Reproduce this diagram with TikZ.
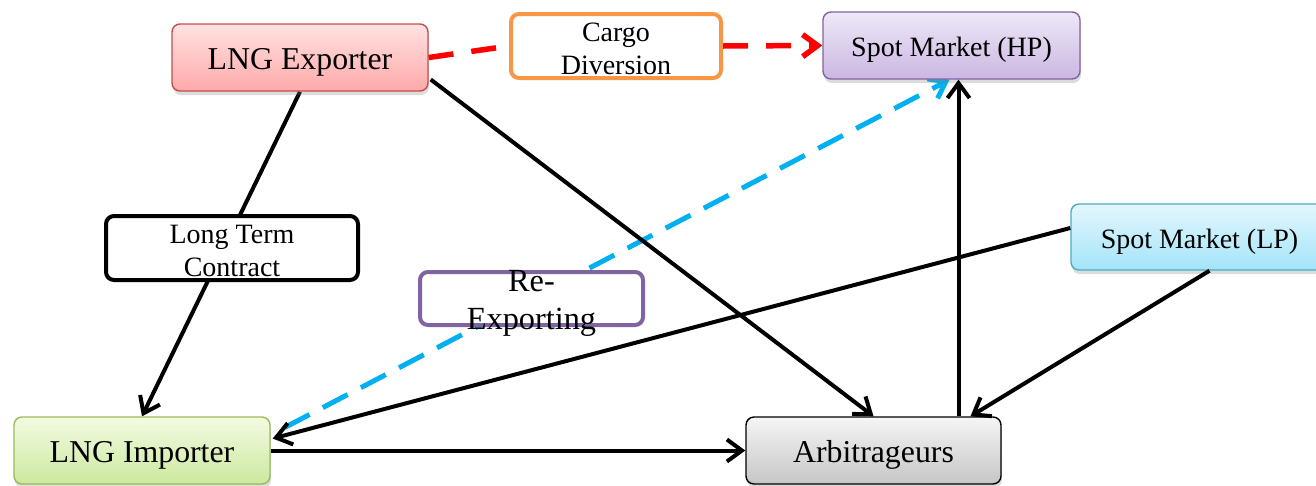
\documentclass[tikz,border=0pt]{standalone}
\usepackage{fontspec}
\setmainfont{Liberation Serif}
\usetikzlibrary{arrows.meta,calc,shadows,backgrounds}

\definecolor{expborder}{HTML}{C0504D}
\definecolor{exptop}{HTML}{FFE2E2}
\definecolor{expbot}{HTML}{FFA9A9}
\definecolor{hpborder}{HTML}{8064A2}
\definecolor{hptop}{HTML}{EEE8F7}
\definecolor{hpbot}{HTML}{CBB7E2}
\definecolor{lpborder}{HTML}{4BACC6}
\definecolor{lptop}{HTML}{E3F7FD}
\definecolor{lpbot}{HTML}{A4E4F8}
\definecolor{impborder}{HTML}{9BBB59}
\definecolor{imptop}{HTML}{F3FBE2}
\definecolor{impbot}{HTML}{CCE89E}
\definecolor{arbtop}{HTML}{F5F5F5}
\definecolor{arbbot}{HTML}{C6C6C6}
\definecolor{cargoborder}{HTML}{F79646}
\definecolor{reexpblue}{HTML}{00B0F0}
\definecolor{flowred}{HTML}{FF0000}

\tikzset{
  actor/.style={rounded corners=8pt, line width=1.4pt, inner sep=0pt,
    drop shadow={opacity=0.28, shadow xshift=1pt, shadow yshift=-4pt}},
  labelbox/.style={rounded corners=8pt, line width=4pt, fill=white, inner sep=0pt},
  bigtxt/.style={font=\fontsize{31.8}{38}\selectfont, text height=24.5pt, text depth=0pt},
  onetxt/.style={font=\fontsize{28}{33}\selectfont, text height=22.5pt, text depth=0pt},
  midtxt/.style={font=\fontsize{28}{33}\selectfont, align=center, inner sep=0pt},
  tip/.style={-{Straight Barb[length=15pt,width=22pt]}},
  flow/.style={line width=4pt, black, tip},
  redflow/.style={line width=5.5pt, flowred, dash pattern=on 25pt off 18pt},
  blueflow/.style={line width=5pt, reexpblue, dash pattern=on 28pt off 15pt},
}

\begin{document}
\begin{tikzpicture}[x=1pt,y=-1pt]
\useasboundingbox (0,0) rectangle (1316,485);

% actors
\node[actor, draw=expborder, top color=exptop, bottom color=expbot,
  minimum width=256pt, minimum height=67pt, bigtxt] (exp) at (300,57.5) {LNG Exporter};
\node[actor, draw=hpborder, top color=hptop, bottom color=hpbot,
  minimum width=257pt, minimum height=67pt, onetxt] (hp) at (951.5,45.5) {Spot Market (HP)};
\node[actor, draw=lpborder, top color=lptop, bottom color=lpbot,
  minimum width=257pt, minimum height=66pt, onetxt] (lp) at (1199.5,237) {Spot Market (LP)};
\node[actor, draw=impborder, top color=imptop, bottom color=impbot,
  minimum width=256pt, minimum height=67pt, bigtxt] (imp) at (142,450.5) {LNG Importer};
\node[actor, draw=black, top color=arbtop, bottom color=arbbot,
  minimum width=255pt, minimum height=67pt, bigtxt] (arb) at (873.5,450.5) {Arbitrageurs};

% mechanism labels: frames, then their two-line texts
\node[labelbox, draw=cargoborder, minimum width=210pt, minimum height=64pt] (cargo) at (616,46) {};
\node[midtxt] (cargotxt) at (616,48.5) {Cargo\\Diversion};
\node[labelbox, draw=black, minimum width=252pt, minimum height=64pt] (ltc) at (232,248) {};
\node[midtxt] (ltctxt) at (232,250.5) {Long Term\\Contract};
\node[labelbox, draw=hpborder, minimum width=223pt, minimum height=53pt] (reexp) at (531.5,298.5) {};
\node[font=\fontsize{32.3}{38}\selectfont, align=center, inner sep=0pt]
  (reexptxt) at (531.5,303) {Re-\\Exporting};

% connectors that pass behind the label boxes
\begin{scope}[on background layer]
  \draw[flow] (exp.south) -- (imp.north);
  \draw[blueflow, tip] ($(imp.east)+(14,-23)$) -- ($(hp.south)+(-2,0)$);
\end{scope}

\draw[redflow] (exp.east) -- (cargo.west);
\draw[redflow, tip] (cargo.east) -- (hp.west);

\draw[flow] ($(exp.east)+(2,22)$) -- (arb.north);
\draw[flow] ($(lp.west)+(0,-9)$) -- ($(imp.east)+(2,-12)$);
\draw[flow] ($(lp.south)+(10,0)$) -- ($(arb.north)+(97,0)$);
\draw[flow] ($(arb.north)+(85,0)$) -- ($(hp.south)+(7,0)$);
\draw[flow] (imp.east) -- (arb.west);
\end{tikzpicture}
\end{document}
